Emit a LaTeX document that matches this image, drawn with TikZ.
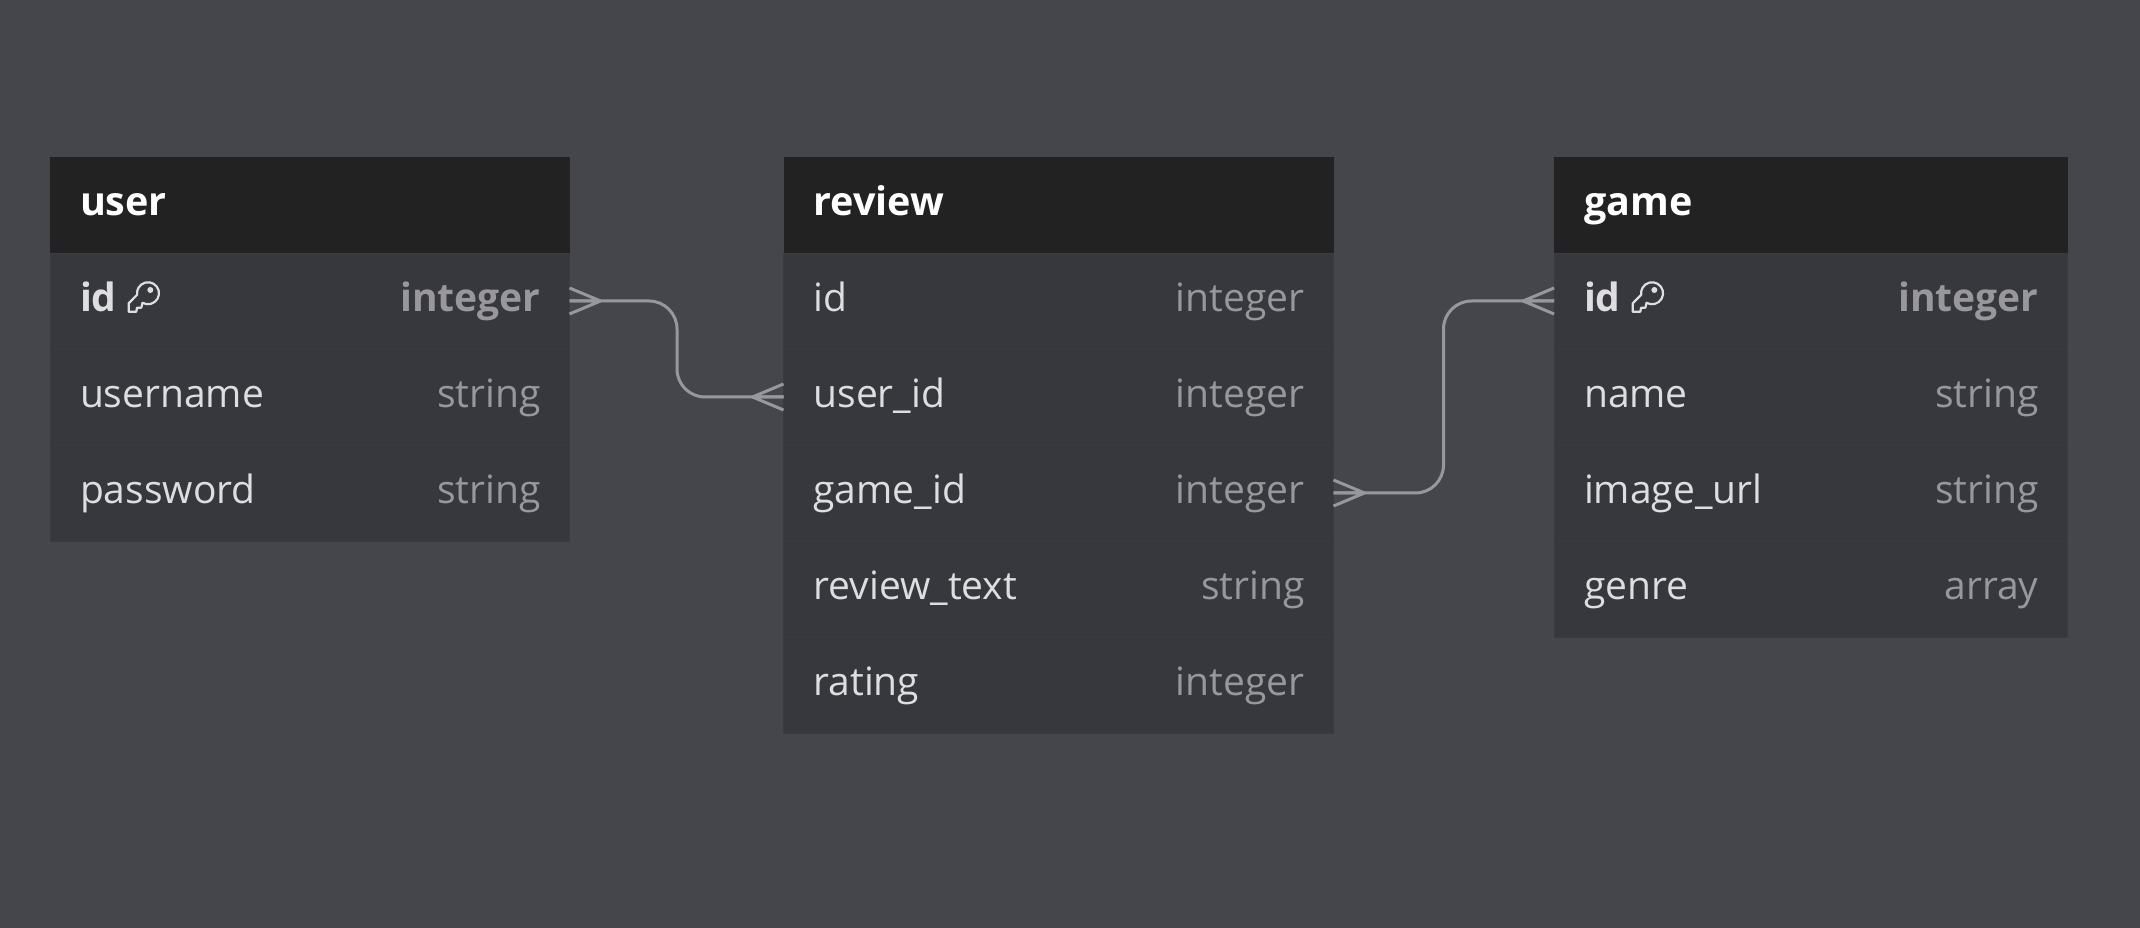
\documentclass[tikz,border=0pt]{standalone}
\usepackage{fontspec}
\setmainfont{Open Sans}
\usetikzlibrary{positioning}
\definecolor{pagegray}{HTML}{45464B}
\definecolor{headblack}{HTML}{222222}
\definecolor{bodygray}{HTML}{37383D}
\definecolor{rowline}{HTML}{3A3B40}
\definecolor{fieldgray}{HTML}{DEDEE1}
\definecolor{typegray}{HTML}{98989C}
\newcommand{\ftype}[1]{\hfill\textcolor{typegray}{#1}\hspace*{-1pt}}

\begin{document}
\begin{tikzpicture}[
            x=1pt,y=1pt,
            tablerow/.style={inner xsep=30,inner ysep=0,outer sep=0,minimum height=96,text height=32,text depth=10,node distance=96,font=\fontsize{39}{46}\selectfont},
            head/.style={tablerow,fill=headblack,text=white,text height=30.5,font=\fontsize{39.5}{46}\selectfont\bfseries},
            field/.style={tablerow,fill=bodygray,draw=rowline,line width=.6,text=fieldgray},
            keyfield/.style={field,font=\fontsize{39}{46}\selectfont\bfseries},
            usercol/.style={text width=459.5},
            reviewcol/.style={text width=490},
            gamecol/.style={text width=453.5},
            link/.style={draw=typegray,line width=3,line join=round},
            crowfoot/.pic={\draw[link] (0,13) -- (31,0) -- (0,-13) (0,0) -- (31,0);},
            keyicon/.pic={
              \draw[fieldgray,line width=2.2,line join=round] (14.5,-1.8) arc[start angle=240,end angle=548,radius=11] -- (.7,-2.3) -- (.7,-10.7) -- (8.3,-10.7) -- (9,-6.7) -- (13.3,-6.7) -- cycle;
              \fill[fieldgray] (22.3,11) circle (3);
            }
          ]
          \path[use as bounding box,fill=pagegray] (0,0) rectangle (2140,928);

          %user
          \node[head,usercol] (user) at (309.75,723) {user};
          \node[below of = user,keyfield,usercol] (userid) {id\ftype{integer}};
          \node[below of = userid,field,usercol] (username) {username\ftype{string}};
          \node[below of = username,field,usercol] (userpassword) {password\ftype{string}};
          \pic at ([xshift=78]userid.west) {keyicon};

          %review
          \node[head,reviewcol] (review) at (1058.5,723) {review};
          \node[below of = review,field,reviewcol] (reviewid) {id\ftype{integer}};
          \node[below of = reviewid,field,reviewcol] (reviewuser) {user\_id\ftype{integer}};
          \node[below of = reviewuser,field,reviewcol] (reviewgame) {game\_id\ftype{integer}};
          \node[below of = reviewgame,field,reviewcol] (reviewtext) {review\_text\ftype{string}};
          \node[below of = reviewtext,field,reviewcol] (reviewrating) {rating\ftype{integer}};

          %game
          \node[head,gamecol] (game) at (1810.8,723) {game};
          \node[below of = game,keyfield,gamecol] (gameid) {id\ftype{integer}};
          \node[below of = gameid,field,gamecol] (gamename) {name\ftype{string}};
          \node[below of = gamename,field,gamecol] (gameimage) {image\_url\ftype{string}};
          \node[below of = gameimage,field,gamecol] (gamegenre) {genre\ftype{array}};
          \pic at ([xshift=78]gameid.west) {keyicon};

          %links
          \draw[link,rounded corners=28] (userid.east) -- ++(107.5,0) |- (reviewuser.west);
          \draw[link,rounded corners=28] (reviewgame.east) -- ++(110,0) |- (gameid.west);
          \pic at (userid.east) {crowfoot};
          \pic[xscale=-1] at (reviewuser.west) {crowfoot};
          \pic at (reviewgame.east) {crowfoot};
          \pic[xscale=-1] at (gameid.west) {crowfoot};
      \end{tikzpicture}
\end{document}
